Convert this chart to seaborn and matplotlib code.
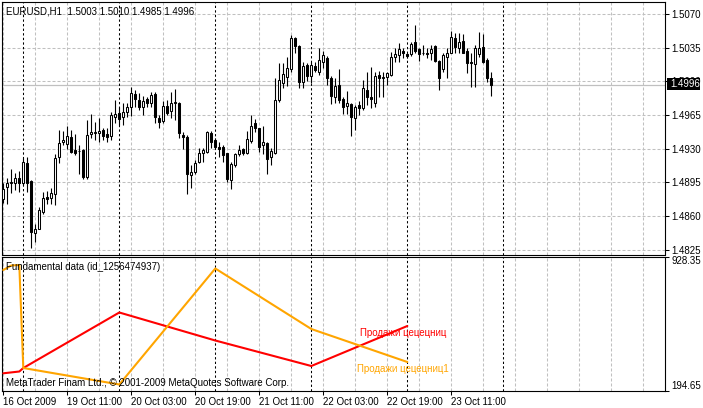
import numpy as np
import pandas as pd
import matplotlib
matplotlib.use("Agg")
import matplotlib.pyplot as plt
from matplotlib.patches import Rectangle
import seaborn as sns

# ---------------- data ----------------
symbol_header = "EURUSD,H1  1.5003 1.5010 1.4985 1.4996"

opens = [1.4913, 1.4878, 1.4890, 1.4894, 1.4894, 1.4900, 1.4894, 1.4915, 1.4896, 1.4842,
         1.4847, 1.4864, 1.4880, 1.4879, 1.4883, 1.4921, 1.4937, 1.4935, 1.4942, 1.4929,
         1.4928, 1.4929, 1.4901, 1.4945, 1.4946, 1.4946, 1.4949, 1.4945, 1.4943, 1.4963,
         1.4967, 1.4963, 1.4968, 1.4973, 1.4987, 1.4981, 1.4973, 1.4982, 1.4978, 1.4987,
         1.4962, 1.4959, 1.4974, 1.4969, 1.4977, 1.4978, 1.4944, 1.4942, 1.4903, 1.4906,
         1.4916, 1.4926, 1.4927, 1.4946, 1.4939, 1.4932, 1.4932, 1.4925, 1.4897, 1.4913,
         1.4925, 1.4930, 1.4926, 1.4938, 1.4957, 1.4951, 1.4934, 1.4936, 1.4921, 1.4926,
         1.4981, 1.4998, 1.5005, 1.5013, 1.5045, 1.5037, 1.4999, 1.5017, 1.5006, 1.5016,
         1.5010, 1.5020, 1.5024, 1.5004, 1.4984, 1.4996, 1.4982, 1.4974, 1.4976, 1.4962,
         1.4975, 1.4972, 1.4991, 1.4984, 1.4977, 1.5007, 1.5003, 1.5005, 1.5007, 1.5025,
         1.5027, 1.5032, 1.5028, 1.5028, 1.5041, 1.5034, 1.5029, 1.5029, 1.5030, 1.5037,
         1.5021, 1.5013, 1.5025, 1.5030, 1.5045, 1.5035, 1.5042, 1.5032, 1.5020, 1.5018,
         1.5028, 1.5036, 1.5022, 1.5003]
highs = [1.4918, 1.4894, 1.4900, 1.4909, 1.4905, 1.4907, 1.4920, 1.4921, 1.4897, 1.4852,
         1.4869, 1.4885, 1.4886, 1.4889, 1.4924, 1.4949, 1.4948, 1.4954, 1.4949, 1.4945,
         1.4934, 1.4930, 1.4960, 1.4966, 1.4958, 1.4962, 1.4952, 1.4952, 1.4968, 1.4981,
         1.4973, 1.4977, 1.4977, 1.4994, 1.4991, 1.4988, 1.4985, 1.4984, 1.4989, 1.4989,
         1.4965, 1.4980, 1.4981, 1.4989, 1.4992, 1.4979, 1.4947, 1.4944, 1.4913, 1.4918,
         1.4931, 1.4931, 1.4948, 1.4948, 1.4941, 1.4937, 1.4934, 1.4926, 1.4916, 1.4926,
         1.4934, 1.4931, 1.4948, 1.4965, 1.4961, 1.4952, 1.4954, 1.4937, 1.4931, 1.5003,
         1.5019, 1.5019, 1.5025, 1.5048, 1.5046, 1.5038, 1.5020, 1.5019, 1.5020, 1.5020,
         1.5035, 1.5032, 1.5026, 1.5006, 1.5003, 1.5013, 1.4984, 1.4990, 1.4977, 1.4975,
         1.4980, 1.5001, 1.5010, 1.5015, 1.5010, 1.5011, 1.5010, 1.5010, 1.5031, 1.5035,
         1.5040, 1.5035, 1.5030, 1.5041, 1.5059, 1.5035, 1.5038, 1.5035, 1.5038, 1.5038,
         1.5022, 1.5030, 1.5035, 1.5052, 1.5050, 1.5050, 1.5049, 1.5035, 1.5029, 1.5038,
         1.5051, 1.5049, 1.5024, 1.5010]
lows = [1.4885, 1.4874, 1.4873, 1.4884, 1.4887, 1.4885, 1.4892, 1.4885, 1.4827, 1.4833,
        1.4846, 1.4862, 1.4873, 1.4872, 1.4871, 1.4915, 1.4934, 1.4930, 1.4926, 1.4923,
        1.4904, 1.4899, 1.4899, 1.4941, 1.4939, 1.4937, 1.4939, 1.4937, 1.4939, 1.4957,
        1.4955, 1.4955, 1.4963, 1.4964, 1.4973, 1.4970, 1.4965, 1.4973, 1.4973, 1.4957,
        1.4952, 1.4957, 1.4965, 1.4962, 1.4960, 1.4941, 1.4930, 1.4883, 1.4889, 1.4904,
        1.4915, 1.4916, 1.4926, 1.4931, 1.4930, 1.4921, 1.4916, 1.4895, 1.4888, 1.4911,
        1.4922, 1.4923, 1.4925, 1.4936, 1.4947, 1.4927, 1.4924, 1.4904, 1.4913, 1.4925,
        1.4979, 1.4993, 1.4995, 1.5010, 1.5030, 1.4993, 1.4993, 1.5000, 1.4998, 1.5010,
        1.5007, 1.5014, 1.4996, 1.4976, 1.4978, 1.4977, 1.4966, 1.4966, 1.4943, 1.4949,
        1.4965, 1.4970, 1.4975, 1.4972, 1.4973, 1.4984, 1.4984, 1.4996, 1.5006, 1.5020,
        1.5020, 1.5024, 1.5024, 1.5026, 1.5030, 1.5021, 1.5027, 1.5024, 1.5022, 1.5020,
        1.4991, 1.5010, 1.5003, 1.5029, 1.5030, 1.5030, 1.5029, 1.5009, 1.4994, 1.4994,
        1.5025, 1.5019, 1.4999, 1.4985]
closes = [1.4888, 1.4888, 1.4894, 1.4895, 1.4900, 1.4894, 1.4916, 1.4894, 1.4843, 1.4847,
          1.4866, 1.4879, 1.4878, 1.4884, 1.4920, 1.4936, 1.4939, 1.4943, 1.4927, 1.4926,
          1.4928, 1.4901, 1.4944, 1.4947, 1.4947, 1.4948, 1.4943, 1.4942, 1.4965, 1.4966,
          1.4961, 1.4968, 1.4973, 1.4988, 1.4982, 1.4973, 1.4980, 1.4978, 1.4986, 1.4963,
          1.4958, 1.4974, 1.4967, 1.4977, 1.4979, 1.4946, 1.4942, 1.4904, 1.4906, 1.4915,
          1.4926, 1.4929, 1.4947, 1.4937, 1.4932, 1.4930, 1.4923, 1.4899, 1.4914, 1.4924,
          1.4929, 1.4926, 1.4940, 1.4954, 1.4951, 1.4932, 1.4937, 1.4919, 1.4928, 1.4981,
          1.5001, 1.5008, 1.5014, 1.5045, 1.5037, 1.4999, 1.5016, 1.5006, 1.5017, 1.5012,
          1.5022, 1.5027, 1.5003, 1.4985, 1.4995, 1.4981, 1.4973, 1.4977, 1.4963, 1.4973,
          1.4972, 1.4993, 1.4984, 1.4982, 1.5006, 1.5003, 1.5005, 1.5009, 1.5025, 1.5028,
          1.5034, 1.5029, 1.5026, 1.5039, 1.5032, 1.5028, 1.5029, 1.5028, 1.5034, 1.5021,
          1.5004, 1.5027, 1.5029, 1.5046, 1.5036, 1.5041, 1.5030, 1.5019, 1.5019, 1.5035,
          1.5035, 1.5020, 1.5003, 1.4996]
first_bar = -1  # bar index of the first (partially hidden) candle

price_levels = [1.5070, 1.5035, 1.5000, 1.4965, 1.4930, 1.4895, 1.4860, 1.4825]
price_labels = ["1.5070", "1.5035", "1.5000", "1.4965", "1.4930", "1.4895", "1.4860", "1.4825"]
last_price = 1.4996

time_tick_bars = [0, 16, 32, 48, 64, 80, 96, 112]
time_tick_labels = ["16 Oct 2009", "19 Oct 11:00", "20 Oct 03:00", "20 Oct 19:00",
                    "21 Oct 11:00", "22 Oct 03:00", "22 Oct 19:00", "23 Oct 11:00"]
day_separator_bars = [5, 29, 53, 77, 101, 125]

red_bars = [0, 4, 5, 29, 53, 77, 101]
red_values = [291.2, 301.0, 320.1, 622.9, 470.1, 331.0, 549.2]
orange_bars = [0, 2, 4, 5, 29, 53, 77, 101]
orange_values = [854.7, 879.3, 882.0, 320.1, 230.1, 862.9, 532.9, 352.9]
red_name = "Продажи цецецниц"
orange_name = "Продажи цецецниц1"
sub_min, sub_max = 194.65, 928.35
sub_labels = ["194.65", "928.35"]

# ---------------- style ----------------
sns.set_theme(style="white")
plt.rcParams['font.family'] = ['Liberation Sans', 'DejaVu Sans']
plt.rcParams['font.size'] = 7
FS = 7

W, H = 703, 408
fig = plt.figure(figsize=(W / 100, H / 100), dpi=100)
fig.patch.set_facecolor("white")


def rect(l, t, r, b):
    return [l / W, 1 - b / H, (r - l) / W, (b - t) / H]


def ftext(x, y, s, **kw):
    fig.text(x / W, 1 - y / H, s, fontsize=FS, va="center", ha="left", **kw)


ax = fig.add_axes(rect(2, 2, 665, 254.5))
ax2 = fig.add_axes(rect(2, 256.5, 665, 391), sharex=ax)

xmin, xmax = (2 - 3.3) / 4, (665 - 3.3) / 4
GRID = "#c0c0c0"
dash = (0, (2.9, 1.9))

for a in (ax, ax2):
    a.set_facecolor("white")
    for s in a.spines.values():
        s.set_color("black")
        s.set_linewidth(0.8)
    for gx in np.arange(0, 170, 8):
        a.axvline(gx, color=GRID, lw=0.75, linestyle=dash, zorder=1)
    for dx in day_separator_bars:
        a.axvline(dx, color="black", lw=0.75, linestyle=(0, (2.2, 2.2)), zorder=1.5)

for lv in price_levels:
    ax.axhline(lv, color=GRID, lw=0.75, linestyle=dash, zorder=1)
ax.axhline(last_price, color=GRID, lw=0.9, zorder=1.2)

# ---------------- candles ----------------
df = pd.DataFrame({"open": opens, "high": highs, "low": lows, "close": closes})
df["bar"] = np.arange(first_bar, first_bar + len(df))
bull = df["close"] >= df["open"]
ax.vlines(df["bar"], df["low"], df["high"], color="black", lw=0.8, zorder=3)
bottoms = np.minimum(df["open"], df["close"])
heights = np.abs(df["close"] - df["open"])
ax.bar(df["bar"][bull], heights[bull], bottom=bottoms[bull], width=0.5,
       color="white", edgecolor="black", linewidth=0.75, zorder=4)
ax.bar(df["bar"][~bull], heights[~bull], bottom=bottoms[~bull], width=0.5,
       color="black", edgecolor="black", linewidth=0.75, zorder=4)

ax.set_xlim(xmin, xmax)
ax.set_ylim(1.4820, 1.50825)
ax.yaxis.tick_right()
ax.set_yticks(price_levels)
ax.set_yticklabels(price_labels)
ax.tick_params(axis="y", right=True, left=False, direction="out", length=3,
               width=0.75, pad=1.5, labelsize=FS, colors="black")
ax.tick_params(axis="x", bottom=False, labelbottom=False)
ax.set_xlabel("")
ax.set_ylabel("")

# ---------------- sub window ----------------
lines = pd.DataFrame({
    "bar": red_bars + orange_bars,
    "value": red_values + orange_values,
    "series": [red_name] * len(red_bars) + [orange_name] * len(orange_bars),
})
sns.lineplot(data=lines, x="bar", y="value", hue="series",
             palette={red_name: "#ff0000", orange_name: "#ffa500"},
             estimator=None, sort=False, legend=False, linewidth=1.5, ax=ax2, zorder=3)
ax2.set_ylim(sub_min, sub_max)
ax2.yaxis.tick_right()
ax2.set_yticks([sub_min, sub_max])
ax2.set_yticklabels(sub_labels)
ax2.tick_params(axis="y", right=True, left=False, direction="out", length=3,
                width=0.75, pad=1.5, labelsize=FS, colors="black")
yl = ax2.get_yticklabels()
yl[0].set_va("bottom")
yl[1].set_va("top")
ax2.set_xticks(time_tick_bars)
ax2.set_xticklabels(time_tick_labels)
ax2.tick_params(axis="x", bottom=True, direction="out", length=3, width=0.75,
                pad=1.5, labelsize=FS, colors="black")
for lbl in ax2.get_xticklabels():
    lbl.set_ha("left")
ax2.set_xlabel("")
ax2.set_ylabel("")
ax2.set_xlim(xmin, xmax)

# ---------------- texts ----------------
ftext(6, 11.5, symbol_header, color="black", zorder=10)
ftext(5.5, 267, "Fundamental data (id_1256474937)", color="black", zorder=10)
ftext(5.5, 382.5, "MetaTrader Finam Ltd., © 2001-2009 MetaQuotes Software Corp.",
      color="black", zorder=10)
ftext(360, 333.5, red_name, color="#ff0000", zorder=10)
ftext(357, 369, orange_name, color="#ffa500", zorder=10)

box = Rectangle((667 / W, 1 - 90 / H), 33 / W, 12 / H, transform=fig.transFigure,
                facecolor="black", edgecolor="none", zorder=5)
fig.patches.append(box)
ftext(670, 84, "1.4996", color="white", zorder=11)

fig.savefig("out.png", dpi=100, facecolor="white")
